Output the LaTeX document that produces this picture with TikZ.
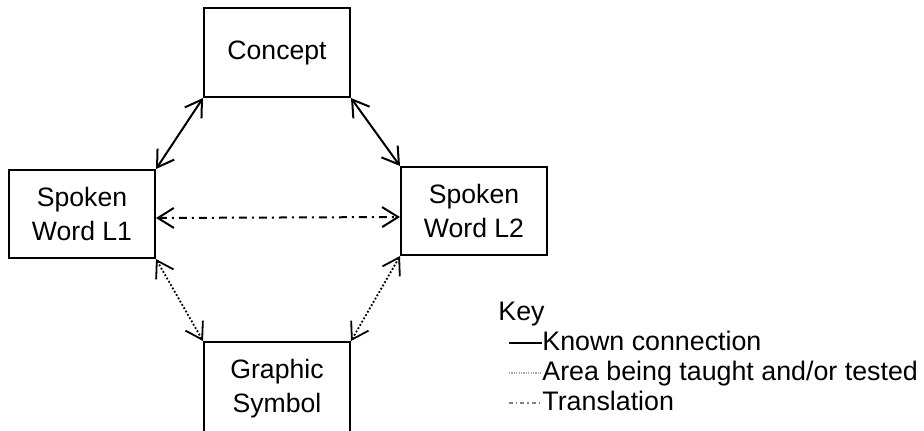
\documentclass[tikz,border=0pt]{standalone}
\usepackage{fontspec}
\setmainfont{Liberation Sans}
\usepackage{tikz}
\usetikzlibrary{arrows.meta, positioning, calc}

\begin{document}
\begin{tikzpicture}[x=0.5pt,y=-0.5pt,
    box/.style={draw, line width=1pt, fill=white, minimum width=73pt, align=center,
      font=\fontsize{13.3}{17}\selectfont},
    both/.style={{Straight Barb[length=8pt,width=10pt]}-{Straight Barb[length=8pt,width=10pt]}},
    known/.style={both, line width=1pt},
    taught/.style={both, line width=0.9pt, dash pattern=on 0.9pt off 1pt},
    trans/.style={both, line width=1pt, dash pattern=on 4pt off 2.5pt on 1pt off 2.5pt},
    keytext/.style={anchor=base west, inner sep=0pt, font=\fontsize{13.4}{15}\selectfont}]
  \useasboundingbox (0,0) rectangle (924,430);

  \node[box, minimum height=44.5pt] (concept) at (277,52.5) {Concept};
  \node[box, minimum height=44pt] (wordL1) at (82,214) {Spoken\\Word L1};
  \node[box, minimum height=44pt] (wordL2) at (474,211) {Spoken\\Word L2};
  \node[box, minimum height=47pt] (graphic) at (277,389) {Graphic\\Symbol};

  \draw[known] (concept.south west) -- (wordL1.north east);
  \draw[known] (concept.south east) -- (wordL2.north west);
  \draw[trans] ($(wordL1.east)+(0,4)$) -- ($(wordL2.west)+(0,6)$);
  \draw[taught] (wordL1.south east) -- (graphic.north west);
  \draw[taught] (wordL2.south west) -- (graphic.north east);

  % key
  \node[keytext] (keytitle) at (498,320) {Key};
  \node[keytext] (keyknown) at (542,350) {Known connection};
  \node[keytext] (keytaught) at (542,380) {Area being taught and/or tested};
  \node[keytext] (keytrans) at (542,410) {Translation};
  \coordinate (k1) at (509,343);
  \coordinate (k2) at (509,373);
  \coordinate (k3) at (509,403);
  \draw[line width=0.8pt] (k1) -- (k1 -| keyknown.west);
  \draw[gray!70, line width=0.6pt, dash pattern=on 0.6pt off 0.6pt] (k2) -- (k2 -| keytaught.west);
  \draw[gray, line width=0.7pt, dash pattern=on 2pt off 1.5pt on 0.7pt off 1.5pt] (k3) -- (k3 -| keytrans.west);
\end{tikzpicture}
\end{document}
